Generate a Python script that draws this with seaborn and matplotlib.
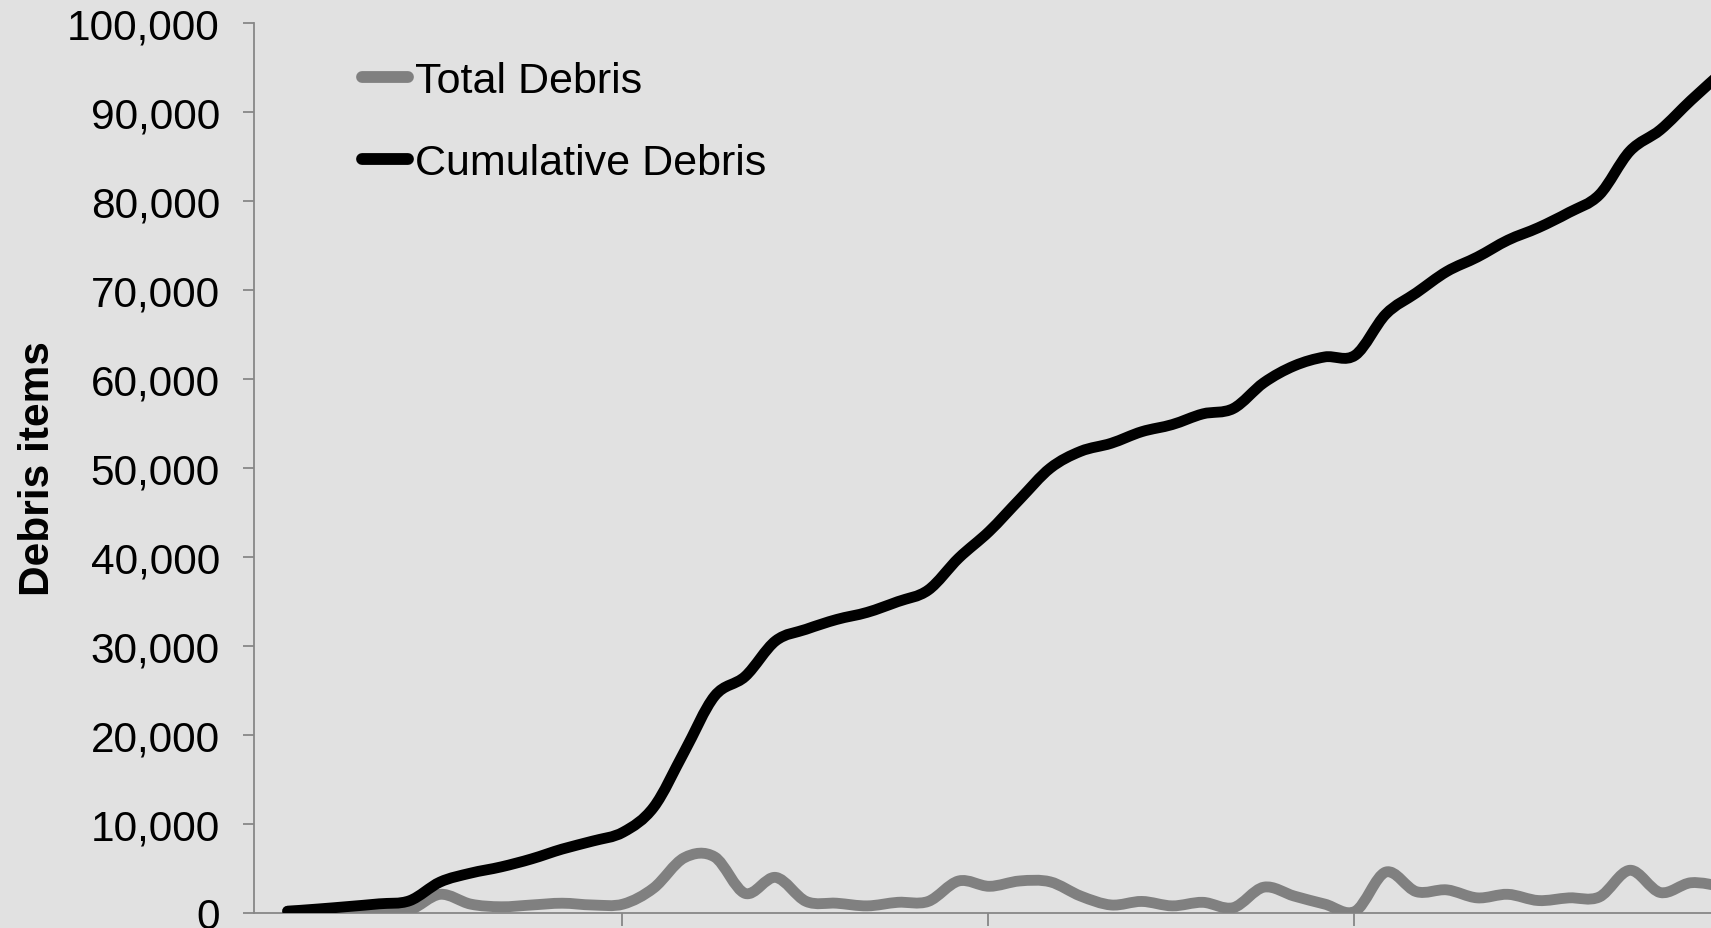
import numpy as np
import pandas as pd
import seaborn as sns
import matplotlib.pyplot as plt
from matplotlib.ticker import FuncFormatter
from matplotlib.path import Path
from matplotlib.patches import PathPatch

# monthly survey index (12 per x tick)
months = list(range(48))

# debris items per survey (grey line)
total_debris = [200, 250, 280, 300, 350, 2100, 1000, 700, 900, 1100,
                900, 1000, 2800, 6200, 6300, 2200, 4000, 1300, 1100, 800,
                1200, 1300, 3600, 3000, 3600, 3500, 1900, 900, 1300, 800,
                1200, 600, 2900, 1900, 1000, 200, 4600, 2400, 2600, 1700,
                2100, 1400, 1700, 1800, 4800, 2300, 3400, 3000]

# running total (black line)
cumulative_debris = [200, 450, 730, 1030, 1380, 3480, 4480, 5180, 6080, 7180,
                     8080, 9080, 11880, 18080, 24380, 26580, 30580, 31880, 32980, 33780,
                     34980, 36280, 39880, 42880, 46480, 49980, 51880, 52780, 54080, 54880,
                     56080, 56680, 59580, 61480, 62480, 62680, 67280, 69680, 72080, 73700,
                     75600, 77000, 78700, 80700, 85600, 88000, 91300, 94400]

series_names = ['Total Debris', 'Cumulative Debris']
y_ticks = [0, 10000, 20000, 30000, 40000, 50000, 60000, 70000, 80000, 90000, 100000]

df = pd.DataFrame({'month': months, 'total': total_debris, 'cum': cumulative_debris})

sns.set_style('white')
plt.rcParams['font.family'] = ['Liberation Sans', 'DejaVu Sans']
plt.rcParams['text.color'] = 'black'
plt.rcParams['axes.labelcolor'] = 'black'

bg = '#e1e1e1'
axis_grey = '#878787'
fs = 30.5


def smooth_path(line):
    # excel style smoothed line: bezier through the plotted points
    xy = np.asarray(line.get_xydata(), dtype=float)
    pts = np.vstack([xy[0], xy, xy[-1]])
    verts = [xy[0]]
    codes = [Path.MOVETO]
    for i in range(1, len(pts) - 2):
        p0, p1, p2, p3 = pts[i - 1], pts[i], pts[i + 1], pts[i + 2]
        verts += [p1 + (p2 - p0) / 6, p2 - (p3 - p1) / 6, p2]
        codes += [Path.CURVE4] * 3
    return Path(verts, codes)


fig = plt.figure(figsize=(17.11, 9.29), dpi=100, facecolor=bg)
ax = fig.add_axes([254 / 1711, 15 / 929, 1457 / 1711, 890 / 929])
ax.set_facecolor(bg)

line_kw = dict(linewidth=7.8, solid_capstyle='round', solid_joinstyle='round', zorder=3)
sns.lineplot(data=df, x='month', y='total', ax=ax, color='#808080', label=series_names[0], **line_kw)
sns.lineplot(data=df, x='month', y='cum', ax=ax, color='#000000', label=series_names[1], **line_kw)

ax.set_ylim(0, 100000)
ax.set_xlim(-1.1, 46.66)
ax.set_yticks(y_ticks)
ax.yaxis.set_major_formatter(FuncFormatter(lambda v, p: f'{v:,.0f}'))
ax.set_xticks([10.95, 22.95, 34.95])
ax.set_xticklabels([])
ax.set_xlabel('')

ax.set_ylabel('Debris items', fontsize=fs, fontweight='bold', color='black')
ax.yaxis.set_label_coords(-0.1345, 0.5)

for s in ['top', 'right']:
    ax.spines[s].set_visible(False)
for s in ['left', 'bottom']:
    ax.spines[s].set_color(axis_grey)
    ax.spines[s].set_linewidth(1.3)

ax.tick_params(axis='y', direction='out', length=8, width=1.3, color=axis_grey,
               labelsize=fs, labelcolor='black', pad=16.5, left=True)
ax.tick_params(axis='x', direction='out', length=9.5, width=1.3, color=axis_grey, bottom=True)

leg = ax.legend(loc='upper left', bbox_to_anchor=(362 / 1711, 1 - 62 / 929),
                bbox_transform=fig.transFigure, frameon=False, fontsize=31,
                handlelength=1.07, handletextpad=0.16, labelspacing=0.98,
                borderpad=0, borderaxespad=0)
for h in leg.get_lines():
    h.set_linewidth(8.5)
    h.set_solid_capstyle('round')
for t in leg.get_texts():
    t.set_color('black')

# swap the straight polylines for smoothed curves through the same points
for line in list(ax.lines):
    patch = PathPatch(smooth_path(line), facecolor='none', edgecolor=line.get_color(),
                      linewidth=line.get_linewidth(), capstyle='round', joinstyle='round',
                      zorder=line.get_zorder())
    ax.add_patch(patch)
    line.set_visible(False)

fig.savefig('out.png', dpi=100, facecolor=bg)
